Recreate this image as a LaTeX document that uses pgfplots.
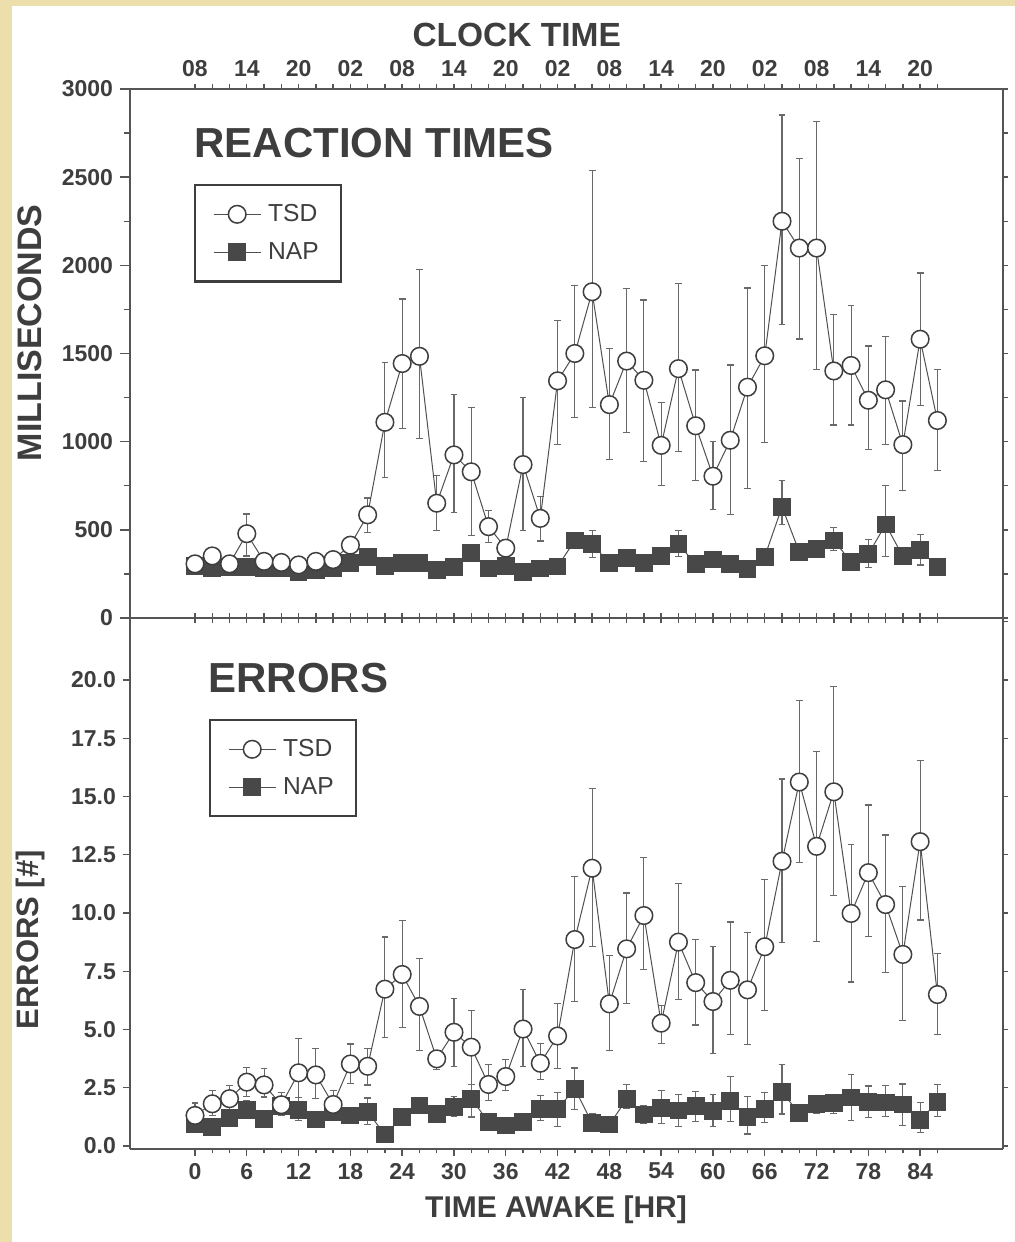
\documentclass[border=0pt]{standalone}
\usepackage{fontspec}
\setmainfont{Liberation Sans}
\usepackage{pgfplots}
\usepackage{pgfplotstable}
\pgfplotsset{compat=1.18}

\definecolor{bg}{RGB}{236,223,172}
\definecolor{ink}{RGB}{62,62,62}
\definecolor{axisc}{RGB}{85,85,85}
\definecolor{linec}{RGB}{80,80,80}
\definecolor{errc}{RGB}{105,105,105}
\definecolor{napc}{RGB}{72,72,72}

% Reaction times, TSD
\pgfplotstableread{
x y ep em
0 307 20 20
2 352 20 20
4 307 15 15
6 478 112 126
8 321 20 20
10 315 15 15
12 301 15 15
14 321 15 15
16 331 15 15
18 413 25 25
20 585 96 101
22 1110 340 311
24 1443 366 370
26 1484 494 466
28 651 158 153
30 925 342 329
32 829 366 361
34 518 92 89
36 396 51 46
38 870 380 372
40 565 122 128
42 1345 344 363
44 1500 385 365
46 1850 690 655
48 1210 318 310
50 1457 411 405
52 1348 455 459
54 979 245 228
56 1414 482 469
58 1090 316 312
60 804 195 189
62 1008 427 419
64 1309 562 573
66 1487 510 491
68 2250 603 587
70 2098 507 516
72 2098 717 691
74 1401 318 307
76 1432 340 337
78 1235 308 280
80 1294 301 308
82 983 248 258
84 1581 375 374
86 1120 288 282
}\rtTSD

% Reaction times, NAP
\pgfplotstableread{
x y ep em
0 295 20 20
2 281 20 20
4 291 20 20
6 291 20 20
8 281 20 20
10 281 20 20
12 260 20 20
14 274 20 20
16 281 20 20
18 311 20 20
20 346 25 25
22 295 20 20
24 311 20 20
26 311 20 20
28 274 20 20
30 291 20 20
32 368 30 30
34 281 20 20
36 295 20 20
38 260 20 20
40 281 20 20
42 292 20 20
44 440 45 40
46 420 75 75
48 312 25 25
50 340 30 30
52 310 25 25
54 350 30 30
56 420 75 70
58 305 25 25
60 332 30 30
62 305 25 25
64 280 25 25
66 348 30 30
68 630 150 100
70 375 30 30
72 390 30 30
74 440 75 55
76 318 25 25
78 362 83 77
80 530 220 180
82 350 30 30
84 385 90 85
86 290 25 25
}\rtNAP

% Errors, TSD
\pgfplotstableread{
x y ep em
0 1.31 0.53 0.36
2 1.81 0.57 0.50
4 2.03 0.57 0.50
6 2.74 0.64 0.60
8 2.62 0.69 0.52
10 1.77 0.54 0.46
12 3.14 1.48 1.51
14 3.05 1.14 1.02
16 1.78 0.60 0.61
18 3.52 0.86 0.85
20 3.42 0.75 0.80
22 6.73 2.24 2.07
24 7.36 2.33 2.27
26 5.99 2.06 1.90
28 3.74 0.35 0.47
30 4.88 1.45 1.46
32 4.24 1.57 2.96
34 2.64 0.84 0.69
36 2.98 0.73 0.60
38 5.02 1.71 1.60
40 3.55 0.86 0.71
42 4.72 1.40 1.38
44 8.86 2.70 2.66
46 11.92 3.41 3.36
48 6.10 2.07 2.01
50 8.46 2.40 2.35
52 9.89 2.49 2.33
54 5.27 0.75 0.86
56 8.75 2.50 2.45
58 7.01 1.86 1.82
60 6.20 2.36 2.22
62 7.11 2.50 2.33
64 6.70 2.47 2.33
66 8.55 2.90 2.74
68 12.22 3.53 3.48
70 15.62 3.50 3.47
72 12.86 4.08 4.09
74 15.20 4.53 4.46
76 9.98 2.96 2.94
78 11.73 2.90 2.74
80 10.36 2.99 2.91
82 8.22 2.92 2.82
84 13.06 3.47 3.36
86 6.50 1.75 1.72
}\erTSD

% Errors, NAP
\pgfplotstableread{
x y ep em
0 0.96 0.25 0.25
2 0.81 0.30 0.25
4 1.20 0.35 0.30
6 1.55 0.40 0.35
8 1.17 0.35 0.30
10 1.70 0.40 0.40
12 1.53 0.55 0.45
14 1.14 0.35 0.30
16 1.45 0.35 0.35
18 1.31 0.35 0.30
20 1.46 0.60 0.55
22 0.49 0.20 0.20
24 1.24 0.30 0.30
26 1.74 0.35 0.30
28 1.38 0.30 0.30
30 1.67 0.45 0.40
32 2.03 0.60 0.80
34 1.03 0.30 0.30
36 0.88 0.30 0.30
38 1.03 0.30 0.30
40 1.60 0.55 0.50
42 1.60 0.70 0.75
44 2.45 0.90 0.90
46 0.98 0.40 0.30
48 0.92 0.30 0.30
50 2.00 0.64 0.40
52 1.35 0.40 0.40
54 1.62 0.75 0.64
56 1.52 0.70 0.67
58 1.71 0.64 0.65
60 1.50 0.70 0.67
62 1.92 1.07 0.88
64 1.25 0.86 0.74
66 1.59 0.70 0.57
68 2.30 1.18 0.93
70 1.41 0.30 0.30
72 1.81 0.36 0.42
74 1.85 0.37 0.45
76 2.08 1.00 0.98
78 1.90 0.67 0.67
80 1.87 0.72 0.62
82 1.78 0.88 0.90
84 1.10 0.77 0.53
86 1.90 0.74 0.64
}\erNAP

\pgfplotsset{
  common/.style={
    scale only axis, width=436.5pt, xmin=-7.53, xmax=93.6,
    axis line style={draw=axisc, line width=0.8pt},
    tick style={draw=axisc, line width=0.7pt},
    every tick label/.append style={font=\bfseries\fontsize{11.5}{13}\selectfont, text=ink},
    /pgf/number format/assume math mode=true,
    label style={text=ink},
    legend style={draw=ink, line width=1.2pt, font=\fontsize{12.3}{14}\selectfont, text=ink,
      inner xsep=9pt, inner ysep=7.5pt, row sep=5pt, cells={anchor=west},
      /tikz/every odd column/.append style={column sep=1.5pt}},
    legend image code/.code={\draw[mark repeat=2,mark phase=2,##1] plot coordinates {(0pt,0pt) (11.75pt,0pt) (23.5pt,0pt)};},
    reverse legend,
  },
  errbar/.style={draw=none, forget plot, error bars/.cd, y dir=both, y explicit,
    error bar style={draw=errc, line width=0.55pt},
    error mark=-, error mark options={rotate=90, draw=errc, line width=0.6pt, mark size=1.7pt}},
  tsd/.style={linec, line width=0.5pt, mark=*, mark size=4.4pt,
    mark options={fill=white, draw=ink, line width=0.75pt}},
  nap/.style={linec, line width=0.5pt, mark=square*, mark size=4.2pt,
    mark options={fill=napc, draw=napc, line width=0.5pt}},
}

\begin{document}
\begin{tikzpicture}
\fill[bg] (0,0) rectangle (507.5pt,621pt);
\fill[white] (6pt,0) rectangle (507.5pt,618pt);
\path[use as bounding box] (0,0) rectangle (507.5pt,621pt);

% ---------- top panel: reaction times ----------
\begin{axis}[common, at={(65pt,312pt)}, anchor=south west, height=264.5pt,
  ymin=0, ymax=3000,
  axis x line*=bottom, axis y line*=left,
  xtick={0,2,...,86}, xticklabels={}, xtick align=center,
  ytick={0,500,...,3000}, minor ytick={250,750,...,2750}, ytick align=outside,
  major tick length=5pt, minor tick length=3pt,
  yticklabel style={/pgf/number format/1000 sep={}},
  ylabel={MILLISECONDS},
  ylabel style={at={(axis description cs:-0.1145,0.539)}, anchor=center, font=\bfseries\fontsize{17}{19}\selectfont},
  legend style={at={(axis description cs:0.0733,0.8204)}, anchor=north west},
]
\addplot[errbar] table[x=x, y=y, y error plus=ep, y error minus=em]{\rtNAP};
\addplot[nap] table[x=x, y=y]{\rtNAP};
\addlegendentry{NAP}
\addplot[errbar] table[x=x, y=y, y error plus=ep, y error minus=em]{\rtTSD};
\addplot[tsd] table[x=x, y=y]{\rtTSD};
\addlegendentry{TSD}
\node[anchor=base west, inner sep=0pt, font=\bfseries\fontsize{21}{24}\selectfont, text=ink] at (axis description cs:0.0733,0.8696) {REACTION TIMES};
\end{axis}

\begin{axis}[common, at={(65pt,312pt)}, anchor=south west, height=264.5pt,
  ymin=0, ymax=3000,
  axis x line*=top, axis y line*=right,
  xtick={0,6,...,84}, xticklabels={08,14,20,02,08,14,20,02,08,14,20,02,08,14,20},
  minor xtick={2,4,...,86}, xtick align=outside,
  ytick={0,250,...,3000}, yticklabels={}, ytick align=outside,
  major tick length=2.5pt, minor tick length=2.5pt,
  xlabel={CLOCK TIME},
  xlabel style={at={(axis description cs:0.443,1.102)}, anchor=center, font=\bfseries\fontsize{16.75}{19}\selectfont},
]
\end{axis}

% ---------- bottom panel: errors ----------
\begin{axis}[common, at={(65pt,46.5pt)}, anchor=south west, height=265.5pt,
  ymin=-0.13, ymax=22.66,
  axis x line*=bottom, axis y line*=left,
  xtick={0,6,...,84}, minor xtick={2,4,...,86}, xtick align=outside,
  ytick={0,2.5,...,20}, ytick align=outside,
  major tick length=3.5pt, minor tick length=2pt,
  yticklabel style={/pgf/number format/.cd, fixed, fixed zerofill, precision=1},
  ylabel={ERRORS [\#]},
  ylabel style={at={(axis description cs:-0.1145,0.394)}, anchor=center, font=\bfseries\fontsize{15.5}{18}\selectfont},
  xlabel={TIME AWAKE [HR]},
  xlabel style={at={(axis description cs:0.488,-0.115)}, anchor=center, font=\bfseries\fontsize{15}{18}\selectfont},
  legend style={at={(axis description cs:0.0905,0.8098)}, anchor=north west},
]
\addplot[errbar] table[x=x, y=y, y error plus=ep, y error minus=em]{\erNAP};
\addplot[nap] table[x=x, y=y]{\erNAP};
\addlegendentry{NAP}
\addplot[errbar] table[x=x, y=y, y error plus=ep, y error minus=em]{\erTSD};
\addplot[tsd] table[x=x, y=y]{\erTSD};
\addlegendentry{TSD}
\node[anchor=base west, inner sep=0pt, font=\bfseries\fontsize{21}{24}\selectfont, text=ink] at (axis description cs:0.0893,0.8606) {ERRORS};
\end{axis}

\begin{axis}[common, at={(65pt,46.5pt)}, anchor=south west, height=265.5pt,
  ymin=-0.13, ymax=22.66,
  axis x line*=top, axis y line*=right,
  xtick=\empty,
  ytick={0,2.5,...,22.5}, yticklabels={}, ytick align=outside,
  major tick length=2.5pt,
]
\end{axis}
\end{tikzpicture}
\end{document}
